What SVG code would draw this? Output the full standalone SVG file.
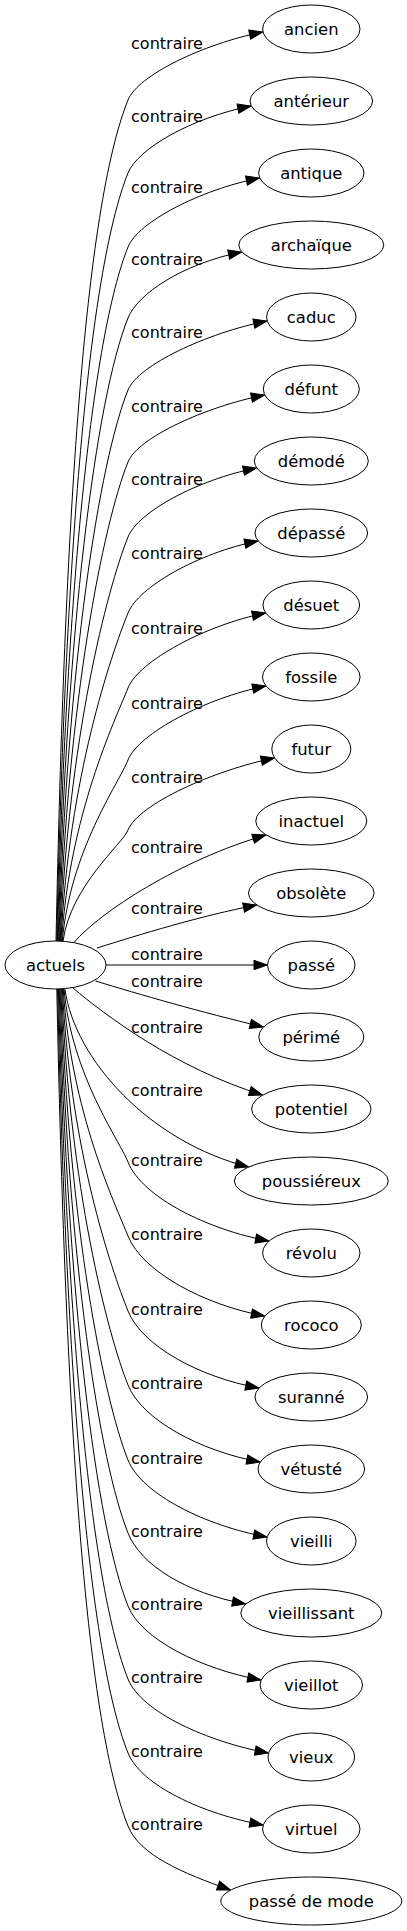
<svg xmlns="http://www.w3.org/2000/svg" width="407" height="1931" viewBox="0 0 407 1931">
<style>
.n ellipse{fill:#fff;stroke:#000;stroke-width:1}
text{font-family:"DejaVu Sans",Verdana,sans-serif;font-size:16px;fill:#000;text-anchor:middle}
.n text{font-size:16.4px}
.c path{fill:none;stroke:#000;stroke-width:1;marker-end:url(#arr)}
</style>
<defs>
<marker id="arr" markerUnits="userSpaceOnUse" markerWidth="16" markerHeight="12" refX="13.3" refY="4.7" orient="auto" overflow="visible">
<path d="M0,0 L13.3,4.7 L0,9.4 Z" fill="#000" stroke="#000" stroke-width="1"/>
</marker>
</defs>
<rect width="407" height="1931" fill="#fff"/>
<g id="connectors" class="c">
<g id="e0"><path d="M56,941.2 C64.6,520.6 84.2,209.4 128,100 C137.8,75.5 202.7,44 262.7,32"/><text x="167" y="49">contraire</text></g>
<g id="e1"><path d="M56.7,941.2 C65.3,557.1 88,272.9 128,173 C137.6,148.9 191,118 251,106"/><text x="167" y="122">contraire</text></g>
<g id="e2"><path d="M57.4,941.2 C65.9,594.1 91.9,337.2 128,247 C137.9,222.2 199.5,190 259.5,178"/><text x="167" y="193">contraire</text></g>
<g id="e3"><path d="M58.1,941.2 C66.5,629.6 95.6,399 128,318 C137.5,294.2 181.7,264 241.7,252"/><text x="167" y="265">contraire</text></g>
<g id="e4"><path d="M58.8,941.2 C67.1,665.6 99.3,461.7 128,390 C137.9,365.2 206.9,333 266.9,321"/><text x="167" y="338">contraire</text></g>
<g id="e5"><path d="M59.5,941.2 C67.7,701.6 103.1,524.3 128,462 C137.6,437.9 204.5,407 264.5,395"/><text x="167" y="412">contraire</text></g>
<g id="e6"><path d="M60.2,941.2 C68.3,739.1 107,589.5 128,537 C137.9,512.2 196.5,480 256.5,468"/><text x="167" y="485">contraire</text></g>
<g id="e7"><path d="M60.9,941.2 C68.95,777.1 110.9,655.7 128,613 C138.4,587.1 197.9,553 257.9,541"/><text x="167" y="559">contraire</text></g>
<g id="e8"><path d="M61.6,941.2 C69.6,814.6 114.8,720.9 128,688 C138.8,661 205.5,625 265.5,613"/><text x="167" y="634">contraire</text></g>
<g id="e9"><path d="M62.3,941.2 C70.2,850.6 118.6,783.6 128,760 C138.6,733.4 205.8,698 265.8,686"/><text x="167" y="709">contraire</text></g>
<g id="e10"><path d="M63,941.2 C70.8,885.6 122.2,844.5 128,830 C138.4,804.1 214.4,770 274.4,758"/><text x="167" y="783">contraire</text></g>
<g id="e11"><path d="M74,942.5 C100,912 180,860 265.9,835"/><text x="167" y="853">contraire</text></g>
<g id="e12"><path d="M97,948 C140,934.5 200,916 256.6,905"/><text x="167" y="914">contraire</text></g>
<g id="e13"><path d="M106,965 L267.3,965"/><text x="167" y="960">contraire</text></g>
<g id="e14"><path d="M95.5,981 C140,994.5 200,1012 263.3,1027"/><text x="167" y="987">contraire</text></g>
<g id="e15"><path d="M73,988 C105,1015 175,1068 262.5,1095"/><text x="167" y="1033">contraire</text></g>
<g id="e16"><path d="M65,989.5 C75,1060 150,1142 248.5,1167"/><text x="167" y="1096">contraire</text></g>
<g id="e17"><path d="M64,988.8 C71.7,1075.4 119,1139.5 128,1162 C142.2,1197.6 208.8,1230 268.8,1241"/><text x="167" y="1166">contraire</text></g>
<g id="e18"><path d="M63.2,988.8 C71,1112.4 115.2,1203.9 128,1236 C142.4,1272 204.6,1305 264.6,1316"/><text x="167" y="1240">contraire</text></g>
<g id="e19"><path d="M62.4,988.8 C70.3,1149.9 111.2,1269.1 128,1311 C141.9,1345.7 198.8,1377 258.8,1388"/><text x="167" y="1315">contraire</text></g>
<g id="e20"><path d="M61.6,988.8 C69.6,1186.9 107.4,1333.5 128,1385 C141.9,1419.7 200,1451 260,1462"/><text x="167" y="1389">contraire</text></g>
<g id="e21"><path d="M60.8,988.8 C68.9,1224.4 103.5,1398.7 128,1460 C141.9,1494.7 206.8,1526 266.8,1537"/><text x="167" y="1464">contraire</text></g>
<g id="e22"><path d="M60,988.8 C68.2,1260.9 99.7,1462.3 128,1533 C140.8,1565 185.6,1593 245.6,1604"/><text x="167" y="1537">contraire</text></g>
<g id="e23"><path d="M59.2,988.8 C67.5,1297.4 95.9,1525.8 128,1606 C141.3,1639.3 200.9,1669 260.9,1680"/><text x="167" y="1610">contraire</text></g>
<g id="e24"><path d="M58.4,988.8 C66.8,1333.9 92.1,1589.3 128,1679 C141.3,1712.3 208.3,1742 268.3,1753"/><text x="167" y="1683">contraire</text></g>
<g id="e25"><path d="M57.6,988.8 C66,1370.9 88.3,1653.7 128,1753 C141,1785.4 203,1814 263,1825"/><text x="167" y="1757">contraire</text></g>
<g id="e26"><path d="M56.8,988.8 C65.3,1407.4 84.5,1717.2 128,1826 C139.5,1854.8 182,1873 230.6,1890"/><text x="167" y="1830">contraire</text></g>
</g>
<g id="nodes" class="n">
<g id="actuels"><ellipse cx="55.5" cy="965" rx="50.5" ry="24"/><text x="55.5" y="971">actuels</text></g>
<g id="ancien"><ellipse cx="311.3" cy="29" rx="48.7" ry="24"/><text x="311.3" y="35">ancien</text></g>
<g id="anterieur"><ellipse cx="311.3" cy="101" rx="61.3" ry="24"/><text x="311.3" y="107">antérieur</text></g>
<g id="antique"><ellipse cx="311.3" cy="173" rx="52.7" ry="24"/><text x="311.3" y="179">antique</text></g>
<g id="archaique"><ellipse cx="311.3" cy="245" rx="72.5" ry="24"/><text x="311.3" y="251">archaïque</text></g>
<g id="caduc"><ellipse cx="311.3" cy="317" rx="44.7" ry="24"/><text x="311.3" y="323">caduc</text></g>
<g id="defunt"><ellipse cx="311.3" cy="389" rx="48" ry="24"/><text x="311.3" y="395">défunt</text></g>
<g id="demode"><ellipse cx="311.3" cy="461" rx="57" ry="24"/><text x="311.3" y="467">démodé</text></g>
<g id="depasse"><ellipse cx="311.3" cy="533" rx="56.3" ry="24"/><text x="311.3" y="539">dépassé</text></g>
<g id="desuet"><ellipse cx="311.3" cy="605" rx="48.3" ry="24"/><text x="311.3" y="611">désuet</text></g>
<g id="fossile"><ellipse cx="311.3" cy="677" rx="48.8" ry="24"/><text x="311.3" y="683">fossile</text></g>
<g id="futur"><ellipse cx="311.3" cy="749" rx="39.5" ry="24"/><text x="311.3" y="755">futur</text></g>
<g id="inactuel"><ellipse cx="311.3" cy="821" rx="55.5" ry="24"/><text x="311.3" y="827">inactuel</text></g>
<g id="obsolete"><ellipse cx="311.3" cy="893" rx="62.8" ry="24"/><text x="311.3" y="899">obsolète</text></g>
<g id="passe"><ellipse cx="311.3" cy="965" rx="43.7" ry="24"/><text x="311.3" y="971">passé</text></g>
<g id="perime"><ellipse cx="311.3" cy="1037" rx="52.5" ry="24"/><text x="311.3" y="1043">périmé</text></g>
<g id="potentiel"><ellipse cx="311.3" cy="1109" rx="59.7" ry="24"/><text x="311.3" y="1115">potentiel</text></g>
<g id="poussiereux"><ellipse cx="311.3" cy="1181" rx="77" ry="24"/><text x="311.3" y="1187">poussiéreux</text></g>
<g id="revolu"><ellipse cx="311.3" cy="1253" rx="48.7" ry="24"/><text x="311.3" y="1259">révolu</text></g>
<g id="rococo"><ellipse cx="311.3" cy="1325" rx="50" ry="24"/><text x="311.3" y="1331">rococo</text></g>
<g id="suranne"><ellipse cx="311.3" cy="1397" rx="56.3" ry="24"/><text x="311.3" y="1403">suranné</text></g>
<g id="vetuste"><ellipse cx="311.3" cy="1469" rx="53.3" ry="24"/><text x="311.3" y="1475">vétusté</text></g>
<g id="vieilli"><ellipse cx="311.3" cy="1541" rx="44.8" ry="24"/><text x="311.3" y="1547">vieilli</text></g>
<g id="vieillissant"><ellipse cx="311.3" cy="1613" rx="70.5" ry="24"/><text x="311.3" y="1619">vieillissant</text></g>
<g id="vieillot"><ellipse cx="311.3" cy="1685" rx="51.2" ry="24"/><text x="311.3" y="1691">vieillot</text></g>
<g id="vieux"><ellipse cx="311.3" cy="1757" rx="43.3" ry="24"/><text x="311.3" y="1763">vieux</text></g>
<g id="virtuel"><ellipse cx="311.3" cy="1829" rx="48.7" ry="24"/><text x="311.3" y="1835">virtuel</text></g>
<g id="passe_de_mode"><ellipse cx="311.3" cy="1901" rx="90.5" ry="24"/><text x="311.3" y="1907">passé de mode</text></g>
</g>
</svg>
